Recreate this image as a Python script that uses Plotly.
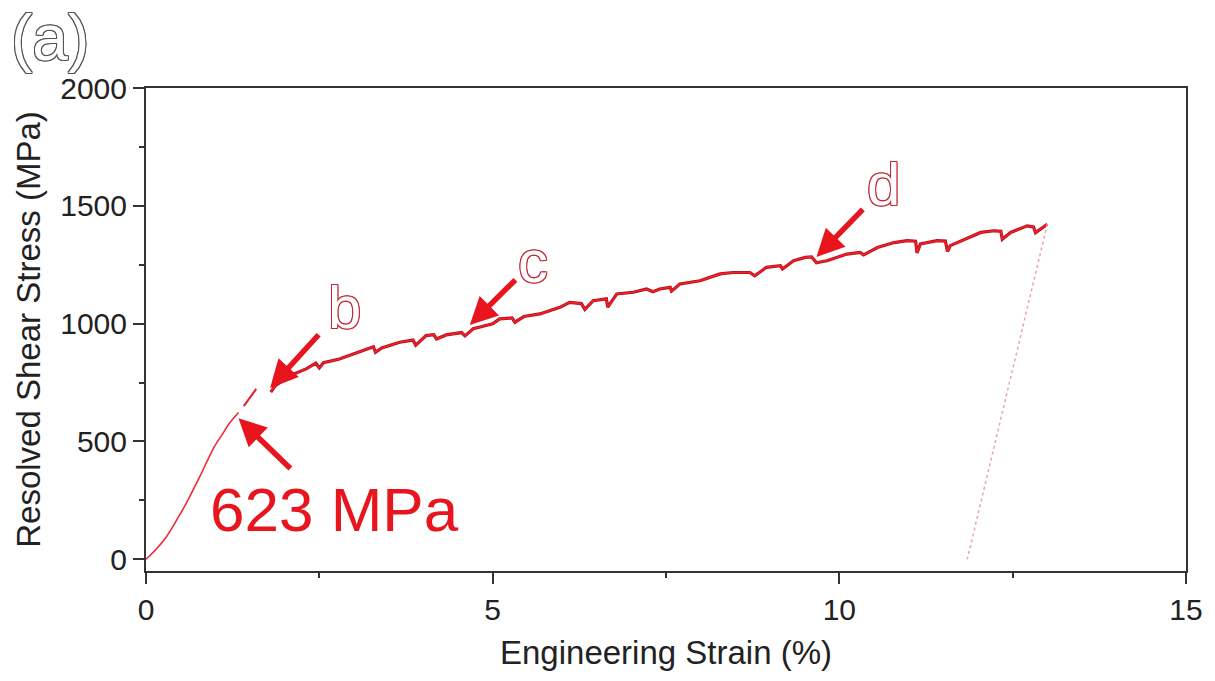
import plotly.graph_objects as go

# Elastic loading segment (strain %, resolved shear stress MPa)
elastic_strain = [0.0, 0.14, 0.29, 0.45, 0.58, 0.77, 0.98, 1.10, 1.20, 1.334]
elastic_stress = [0, 40, 93, 170, 237, 347, 475, 530, 576, 623]

# Short segment just after the first load drop
burst_strain = [1.41, 1.59]
burst_stress = [650, 723]

# Serrated plastic flow segment
plastic_strain = [
    1.80, 1.86, 1.97, 2.10, 2.31, 2.45, 2.50, 2.56, 2.79, 3.00, 3.18, 3.28, 3.31,
    3.40, 3.66, 3.85, 3.89, 4.04, 4.15, 4.19, 4.33, 4.55, 4.60, 4.72, 5.00, 5.10,
    5.28, 5.32, 5.45, 5.68, 5.97, 6.11, 6.28, 6.33, 6.45, 6.64, 6.66, 6.79, 7.03,
    7.22, 7.31, 7.41, 7.56, 7.58, 7.70, 7.99, 8.28, 8.47, 8.71, 8.78, 8.95, 9.15,
    9.18, 9.34, 9.51, 9.60, 9.67, 9.82, 10.11, 10.30, 10.35, 10.55, 10.79, 10.98,
    11.10, 11.12, 11.17, 11.41, 11.53, 11.56, 11.60, 12.04, 12.23, 12.33, 12.35,
    12.47, 12.71, 12.80, 12.83, 13.00,
]
plastic_stress = [
    709, 735, 758, 782, 808, 832, 812, 834, 850, 872, 893, 902, 878,
    897, 921, 930, 908, 949, 953, 935, 952, 962, 948, 978, 999, 1020,
    1024, 1006, 1030, 1041, 1069, 1090, 1085, 1060, 1097, 1105, 1070, 1126, 1133,
    1147, 1135, 1147, 1154, 1138, 1168, 1182, 1211, 1217, 1217, 1203, 1239, 1246,
    1232, 1267, 1281, 1283, 1258, 1267, 1295, 1302, 1292, 1323, 1344, 1352,
    1350, 1300, 1338, 1352, 1350, 1306, 1331, 1387, 1394, 1392, 1358,
    1387, 1415, 1410, 1386, 1422,
]

# Elastic unloading
unload_strain = [13.00, 11.845]
unload_stress = [1422, 0]

# Arrow callouts: (label, head strain, head stress, tail strain, tail stress)
callouts = [
    ("b", 1.79, 727, 2.51, 959),
    ("c", 4.67, 994, 5.35, 1192),
    ("d", 9.67, 1283, 10.36, 1491),
]
letter_pos = {"b": (2.87, 1070), "c": (5.58, 1262), "d": (10.64, 1590)}

yield_label = "623 MPa"
yield_head = (1.334, 598)
yield_tail = (2.104, 379)

RED = "#e8141e"
FONT = "Liberation Sans, Arial, sans-serif"

fig = go.Figure()

fig.add_trace(go.Scatter(x=elastic_strain, y=elastic_stress, mode="lines",
                         line=dict(color="#ee2a36", width=1.6, shape="spline",
                                   smoothing=0.8),
                         hoverinfo="skip", showlegend=False))
fig.add_trace(go.Scatter(x=burst_strain, y=burst_stress, mode="lines",
                         line=dict(color="#e02030", width=2),
                         hoverinfo="skip", showlegend=False))
# darker rim under the serrated curve
fig.add_trace(go.Scatter(x=plastic_strain, y=plastic_stress, mode="lines",
                         line=dict(color="#b0101c", width=3.2),
                         hoverinfo="skip", showlegend=False))
fig.add_trace(go.Scatter(x=plastic_strain, y=plastic_stress, mode="lines",
                         line=dict(color="#f42028", width=1.6),
                         hoverinfo="skip", showlegend=False))
fig.add_trace(go.Scatter(x=unload_strain, y=unload_stress, mode="lines",
                         line=dict(color="#f2a0aa", width=1.5, dash="dot"),
                         hoverinfo="skip", showlegend=False))


def outline(color, w=1):
    offs = [(-w, -w), (0, -w), (w, -w), (-w, 0), (w, 0), (-w, w), (0, w), (w, w)]
    return ", ".join(f"{dx}px {dy}px 0 {color}" for dx, dy in offs)


annotations = []
for name, hx, hy, tx, ty in callouts:
    annotations.append(dict(
        x=hx, y=hy, ax=tx, ay=ty, xref="x", yref="y", axref="x", ayref="y",
        text="", showarrow=True, arrowhead=2, arrowsize=1.0, arrowwidth=5.5,
        arrowcolor=RED,
    ))
    lx, ly = letter_pos[name]
    annotations.append(dict(
        x=lx, y=ly, xref="x", yref="y", text=name, showarrow=False,
        font=dict(family=FONT, size=60, color="white", shadow=outline("#c02a38")),
    ))

annotations.append(dict(
    x=yield_head[0], y=yield_head[1], ax=yield_tail[0], ay=yield_tail[1],
    xref="x", yref="y", axref="x", ayref="y", text="", showarrow=True,
    arrowhead=2, arrowsize=1.0, arrowwidth=5.5, arrowcolor=RED,
))
annotations.append(dict(
    x=2.717, y=213, xref="x", yref="y", text=yield_label, showarrow=False,
    font=dict(family=FONT, size=62, color=RED),
))
annotations.append(dict(
    x=-0.092, y=1.103, xref="paper", yref="paper", xanchor="center",
    yanchor="middle", text="(a)", showarrow=False,
    font=dict(family=FONT, size=64, color="white", shadow=outline("#555555")),
))

axis_common = dict(
    showline=True, linecolor="#333333", linewidth=2, mirror=True,
    showgrid=False, zeroline=False, ticks="outside", ticklen=11, tickwidth=2,
    tickcolor="#333333", tickfont=dict(family=FONT, size=30, color="#222222"),
)

fig.update_layout(
    width=1215, height=681,
    margin=dict(l=146, r=29, t=88, b=110),
    paper_bgcolor="white", plot_bgcolor="white",
    xaxis=dict(range=[0, 15], tickvals=[0, 5, 10, 15],
               minor=dict(ticks="outside", ticklen=5, tickwidth=2, dtick=2.5,
                          tickcolor="#333333"),
               title=dict(text="Engineering Strain (%)",
                          font=dict(family=FONT, size=33, color="#222222"),
                          standoff=16),
               **axis_common),
    yaxis=dict(range=[-50, 2000], tickvals=[0, 500, 1000, 1500, 2000],
               minor=dict(ticks="outside", ticklen=5, tickwidth=2, dtick=250,
                          tickcolor="#333333"),
               title=dict(text="Resolved Shear Stress (MPa)",
                          font=dict(family=FONT, size=33, color="#222222"),
                          standoff=10),
               **axis_common),
    annotations=annotations,
)

fig.write_html("out.html")
